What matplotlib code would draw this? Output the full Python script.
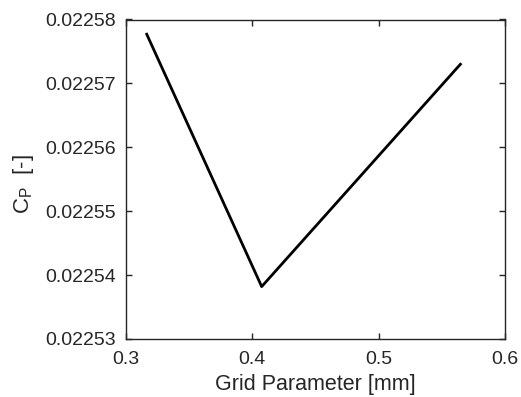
import matplotlib
matplotlib.use("Agg")
import matplotlib.pyplot as plt

grid_param = [0.3164, 0.4074, 0.5647]
cp_values = [0.0225777, 0.0225382, 0.0225730]
x_ticks = [0.3, 0.4, 0.5, 0.6]
y_ticks = [0.02253, 0.02254, 0.02255, 0.02256, 0.02257, 0.02258]

plt.rcParams['font.family'] = ['Liberation Sans', 'DejaVu Sans']

W, H = 521, 397
fig = plt.figure(figsize=(W/100, H/100), dpi=100)
ax = fig.add_axes([126/W, 1-339/H, (505-126)/W, (339-19.5)/H])
ax.plot(grid_param, cp_values, color='black', linewidth=2)
ax.set_xlim(0.3, 0.6)
ax.set_ylim(0.02253, 0.02258)
ax.set_xticks(x_ticks)
ax.set_xticklabels([f"{v:g}" for v in x_ticks])
ax.set_yticks(y_ticks)
ax.set_yticklabels([f"{v:.5f}" for v in y_ticks])
col = '#262626'
for s in ax.spines.values():
    s.set_color(col)
    s.set_linewidth(1.0)
ax.tick_params(direction='in', length=4, width=1, color=col, labelcolor=col,
               labelsize=14, top=True, right=True)
ax.tick_params(axis='x', pad=9)
ax.tick_params(axis='y', pad=7)
ax.set_xlabel('Grid Parameter [mm]', fontsize=15.5, color=col, va='top')
ax.xaxis.set_label_coords(315.5/W, 1-374/H, transform=fig.transFigure)
ax.set_ylabel('C$_\\mathregular{P}$  [-]', fontsize=16, color=col, va='top')
ax.yaxis.set_label_coords(11/W, 1-184/H, transform=fig.transFigure)
fig.savefig('out.png', dpi=100)
